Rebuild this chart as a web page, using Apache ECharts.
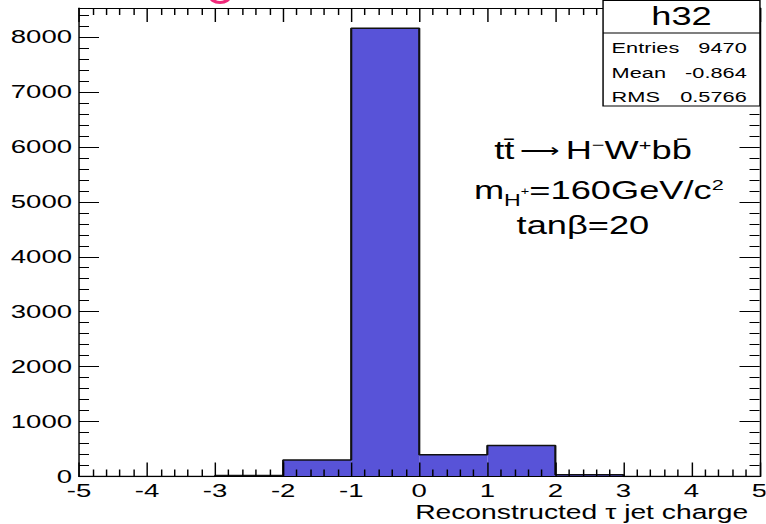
<!DOCTYPE html>
<html>
<head>
<meta charset="utf-8">
<script src="https://cdn.jsdelivr.net/npm/echarts@6/dist/echarts.min.js"></script>
<style>
  html, body { margin: 0; padding: 0; background: #fff; overflow: hidden; }
  #wrap { width: 766px; height: 524px; overflow: hidden; }
  /* The figure is laid out narrow and stretched sideways, like the original canvas */
  #chart { width: 528.28px; height: 524px; transform: scaleX(1.45); transform-origin: 0 0; }
</style>
</head>
<body>
<div id="wrap"><div id="chart"></div></div>
<script>
// Histogram h32: reconstructed tau jet charge, unit-width bins from -5 to 5
const binLowEdges = [-5, -4, -3, -2, -1, 0, 1, 2, 3, 4];
const binCounts   = [0, 0, 18, 300, 8159, 395, 565, 33, 0, 0];
const binWidth = 1;

const xTickLabels = ['-5', '-4', '-3', '-2', '-1', '0', '1', '2', '3', '4', '5'];
const yTickLabels = ['0', '1000', '2000', '3000', '4000', '5000', '6000', '7000', '8000'];

const statTitle = 'h32';
const statNames  = ['Entries', 'Mean', 'RMS'];
const statValues = ['9470', '-0.864', '0.5766'];

const axisTitle = 'Reconstructed \u03c4 jet charge';

const FONT = 'Liberation Sans, Arial, Helvetica, sans-serif';
const FILL = '#5853d8';
const INK = '#000';

const chart = echarts.init(document.getElementById('chart'), null, { renderer: 'svg' });

// step outline of the histogram, built from the bins
const outline = [];
binLowEdges.forEach((lo, i) => {
  outline.push([lo, binCounts[i]]);
  outline.push([lo + binWidth, binCounts[i]]);
});

const yMax = 8528;

function xAxisDef(pos, withLabels) {
  return {
    type: 'value', min: -5, max: 5, interval: 1, position: pos, z: 5,
    axisLine: { show: true, onZero: false, lineStyle: { color: INK, width: 1 } },
    axisTick: { show: true, inside: true, length: 14, lineStyle: { color: INK, width: 1 } },
    minorTick: { show: true, splitNumber: 5, length: 7, lineStyle: { color: INK, width: 1 } },
    splitLine: { show: false },
    axisLabel: {
      show: withLabels, color: INK, fontSize: 19, lineHeight: 17, fontFamily: FONT, margin: 6,
      formatter: v => xTickLabels[Math.round(v) + 5] ?? ''
    }
  };
}

function yAxisDef(pos, step, tickLen, withLabels, withLine) {
  return {
    type: 'value', min: 0, max: yMax, interval: step, position: pos, z: 5,
    axisLine: { show: withLine, onZero: false, lineStyle: { color: INK, width: 1 } },
    axisTick: { show: true, inside: true, length: tickLen, lineStyle: { color: INK, width: 1 } },
    splitLine: { show: false },
    axisLabel: {
      show: withLabels, color: INK, fontSize: 19, lineHeight: 17, fontFamily: FONT, margin: 4.8,
      formatter: v => (v % 1000 === 0 ? yTickLabels[v / 1000] : '')
    }
  };
}

const annoRich = {
  a:   { fontSize: 25, fontFamily: FONT, color: INK, lineHeight: 30 },
  arw: { fontSize: 19, fontFamily: FONT, color: INK, lineHeight: 30 },
  sp:  { fontSize: 15, fontFamily: FONT, color: INK, lineHeight: 30 },
  sup: { fontSize: 15, fontFamily: FONT, color: INK, lineHeight: 15, verticalAlign: 'top', padding: [1, 0, 0, 0] },
  sub: { fontSize: 16, fontFamily: FONT, color: INK, lineHeight: 16, verticalAlign: 'bottom', padding: [0, 0, -2, 0] },
  ssp: { fontSize: 10, fontFamily: FONT, color: INK, lineHeight: 10, verticalAlign: 'bottom', padding: [0, 0, 9, 0] }
};

const statTexts = [];
statNames.forEach((name, i) => {
  const y = 48 + i * 24.5;
  statTexts.push({
    type: 'text', z: 20,
    style: { x: 421.8, y: y, text: name, fontSize: 15, fontFamily: FONT, fill: INK, align: 'left', verticalAlign: 'middle' }
  });
  statTexts.push({
    type: 'text', z: 20,
    style: { x: 515, y: y, text: statValues[i], fontSize: 15, fontFamily: FONT, fill: INK, align: 'right', verticalAlign: 'middle' }
  });
});

chart.setOption({
  animation: false,
  grid: { left: 54.48, right: 4.2, top: 8, bottom: 47.5, containLabel: false, outerBoundsMode: 'none' },
  xAxis: [xAxisDef('bottom', true), xAxisDef('top', false)],
  yAxis: [
    yAxisDef('left', 1000, 13.8, true, true),
    yAxisDef('left', 200, 6.9, false, false),
    yAxisDef('right', 1000, 13.8, false, true),
    yAxisDef('right', 200, 6.9, false, false)
  ],
  series: [
    {
      type: 'custom', name: 'bins', xAxisIndex: 0, yAxisIndex: 0, z: 2,
      data: binLowEdges.map((lo, i) => [lo, binCounts[i]]),
      renderItem: (params, api) => {
        const lo = api.value(0), c = api.value(1);
        if (!c) return null;
        const p0 = api.coord([lo, c]);
        const p1 = api.coord([lo + binWidth, 0]);
        return { type: 'rect', shape: { x: p0[0], y: p0[1], width: p1[0] - p0[0], height: p1[1] - p0[1] },
                 style: { fill: FILL } };
      }
    },
    {
      type: 'line', name: 'outline', xAxisIndex: 0, yAxisIndex: 0, z: 3,
      data: outline, showSymbol: false, symbol: 'none',
      lineStyle: { color: '#111', width: 1.5 }
    }
  ],
  graphic: [
    // clipped heading glyph peeking in at the upper edge
    { type: 'arc', z: 20, shape: { cx: 151.7, cy: -4, r: 6.5, startAngle: 0, endAngle: Math.PI },
      style: { fill: null, stroke: '#f0287a', lineWidth: 3 } },
    // statistics box
    { type: 'rect', z: 20, shape: { x: 415.9, y: 0.5, width: 108.2, height: 105.5 },
      style: { fill: '#fff', stroke: INK, lineWidth: 1 } },
    { type: 'line', z: 21, shape: { x1: 415.9, y1: 33, x2: 524.1, y2: 33 }, style: { stroke: INK, lineWidth: 1 } },
    { type: 'text', z: 21, style: { x: 470, y: 17, text: statTitle, fontSize: 25, fontFamily: FONT, fill: INK, align: 'center', verticalAlign: 'middle' } },
    ...statTexts,
    // process and model parameters
    { type: 'text', z: 20, style: { x: 409, y: 151, align: 'center', verticalAlign: 'middle',
      text: '{a|tt\u0304}{sp|\u00a0}{arw|\u27f6}{sp|\u00a0}{a|H}{sup|\u2212}{a|W}{sup|+}{a|bb\u0304}', rich: annoRich } },
    { type: 'text', z: 20, style: { x: 413, y: 191, align: 'center', verticalAlign: 'middle',
      text: '{a|m}{sub|H}{ssp|+}{a|=160GeV/c}{sup|2}', rich: annoRich } },
    { type: 'text', z: 20, style: { x: 402, y: 226, align: 'center', verticalAlign: 'middle',
      text: '{a|tan\u03b2=20}', rich: annoRich } },
    // x axis title
    { type: 'text', z: 20, style: { x: 516, y: 512, text: axisTitle, fontSize: 19.5, lineHeight: 18, fontFamily: FONT, fill: INK, align: 'right', verticalAlign: 'middle' } }
  ]
});
</script>
</body>
</html>
